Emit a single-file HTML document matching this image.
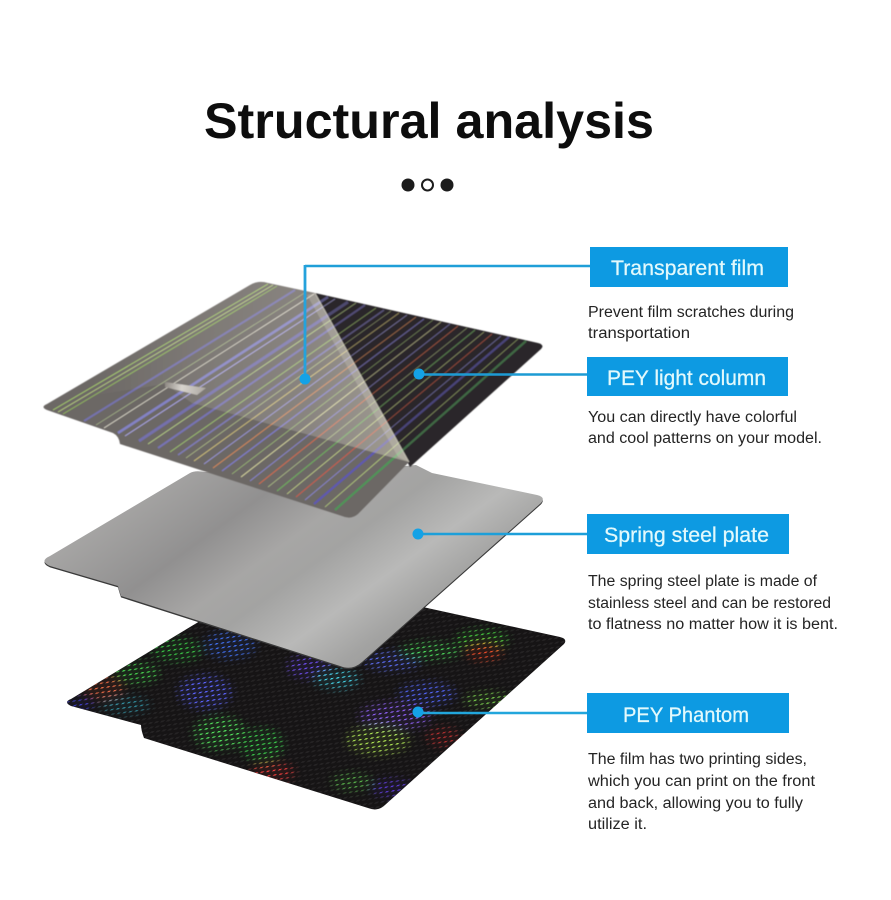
<!DOCTYPE html>
<html lang="en">
<head>
<meta charset="utf-8">
<title>Structural analysis</title>
<style>
html,body{margin:0;padding:0;background:#fff;width:891px;height:900px;overflow:hidden}
svg{display:block}
text{font-family:"Liberation Sans",sans-serif}
.lab{font-size:21px;fill:#e2f9fc;font-weight:400;stroke:#e2f9fc;stroke-width:.25}
.b{font-size:15.5px;fill:#242424}
</style>
</head>
<body>
<svg width="891" height="900" viewBox="0 0 891 900" xmlns="http://www.w3.org/2000/svg">
<defs>
  <linearGradient id="steel" gradientUnits="userSpaceOnUse" x1="150" y1="430" x2="350" y2="707">
    <stop offset="0" stop-color="#a8a7a6"/><stop offset=".13" stop-color="#a6a5a4"/>
    <stop offset=".35" stop-color="#919090"/><stop offset=".5" stop-color="#a7a6a5"/>
    <stop offset=".6" stop-color="#a3a3a2"/><stop offset=".75" stop-color="#b9b9b8"/>
    <stop offset=".88" stop-color="#a3a3a2"/><stop offset="1" stop-color="#979796"/>
  </linearGradient>
  <linearGradient id="flap" gradientUnits="userSpaceOnUse" x1="90" y1="380" x2="405" y2="380">
    <stop offset="0" stop-color="#fff" stop-opacity="0"/>
    <stop offset=".35" stop-color="#fff8ee" stop-opacity=".12"/>
    <stop offset=".7" stop-color="#fff8ee" stop-opacity=".2"/>
    <stop offset="1" stop-color="#f4f0d8" stop-opacity=".38"/>
  </linearGradient>
  <linearGradient id="tape" gradientUnits="userSpaceOnUse" x1="165" y1="385" x2="207" y2="392">
    <stop offset="0" stop-color="#8f8a84"/><stop offset=".4" stop-color="#d8d4ce"/><stop offset="1" stop-color="#a9a49e"/>
  </linearGradient>
  <clipPath id="cFilm"><path d="M47,404 L250,285 Q258,280 268,283 L315,293 L409,462 L358,514 Q351,520 342,516 L120,444 Q119,436 113,433 L47,410 Q40,407 47,404 Z"/></clipPath>
  <clipPath id="cDark"><path d="M315,293 L538,343 Q545,345 541,349 L410,467 Z"/></clipPath>
  <clipPath id="cPh"><path d="M71,699 L276,575 L560,637 Q568,639 564,644 L385,805 Q378,812 368,808 L144,738 Q141,730 141,725 L71,706 Q63,702 71,699 Z"/></clipPath>
  <filter id="bl" x="-5%" y="-5%" width="110%" height="110%"><feGaussianBlur stdDeviation=".4"/></filter>
  <filter id="bb" x="-30%" y="-30%" width="160%" height="160%"><feGaussianBlur stdDeviation="4"/></filter>

  <g id="stripes" fill="none">
    <path d="M53,410 L268,284" stroke="#a6cc6c" stroke-width=".9"/>
    <path d="M58,412 L273,285" stroke="#b8d080" stroke-width=".8"/>
    <path d="M63,414 L277,286" stroke="#90b45e" stroke-width="1"/>
    <path d="M84,421 L295,290" stroke="#7874bf" stroke-width="2" opacity=".8"/>
    <path d="M96,425 L306,292" stroke="#a8b88a" stroke-width=".7"/>
    <path d="M104,428 L314,294" stroke="#d9d6c8" stroke-width=".8"/>
    <path d="M118,433 L328,297" stroke="#8a88dc" stroke-width="2.6" opacity=".8"/>
    <path d="M125,436 L335,299" stroke="#aaa6e4" stroke-width="1"/>
    <path d="M139,441 L348,302" stroke="#7773c4" stroke-width="3" opacity=".75"/>
    <path d="M148,444 L356,303" stroke="#b6cf86" stroke-width=".8"/>
    <path d="M158,448 L365,305" stroke="#7a76c8" stroke-width="2" opacity=".8"/>
    <path d="M170,452 L376,308" stroke="#9dc06e" stroke-width=".9"/>
    <path d="M178,455 L384,310" stroke="#8581cc" stroke-width="1.6" opacity=".8"/>
    <path d="M186,458 L391,311" stroke="#b5c48a" stroke-width=".7"/>
    <path d="M194,461 L399,313" stroke="#d2c27a" stroke-width=".9"/>
    <path d="M204,464 L407,315" stroke="#9a96d8" stroke-width=".9"/>
    <path d="M213,468 L416,317" stroke="#d88a58" stroke-width=".9"/>
    <path d="M222,471 L424,319" stroke="#7f7bc8" stroke-width="1.3"/>
    <path d="M232,474 L433,320" stroke="#a0c078" stroke-width=".7"/>
    <path d="M241,477 L441,322" stroke="#d8d8a0" stroke-width=".9"/>
    <path d="M250,481 L450,324" stroke="#8884cc" stroke-width="1"/>
    <path d="M259,484 L458,326" stroke="#d86c4c" stroke-width=".9"/>
    <path d="M268,487 L467,328" stroke="#b5c88a" stroke-width=".7"/>
    <path d="M277,491 L475,330" stroke="#6fa860" stroke-width="1.2"/>
    <path d="M287,494 L484,332" stroke="#c8d88a" stroke-width=".8"/>
    <path d="M296,497 L492,334" stroke="#d05c48" stroke-width=".9"/>
    <path d="M305,500 L501,336" stroke="#8884cc" stroke-width=".9"/>
    <path d="M314,504 L509,337" stroke="#5f58b0" stroke-width="2.2"/>
    <path d="M325,507 L518,339" stroke="#b5cc7c" stroke-width=".8"/>
    <path d="M335,510 L526,341" stroke="#4f9458" stroke-width="2.2"/>
  </g>

  <pattern id="dash" width="6" height="4.6" patternUnits="userSpaceOnUse" patternTransform="rotate(-8) skewX(-52)">
    <rect x="0" y="0" width="2.8" height="1.3" fill="#fff"/>
  </pattern>
  <pattern id="base" width="6" height="4.6" patternUnits="userSpaceOnUse" patternTransform="rotate(-8) skewX(-52)">
    <rect x="0" y="0" width="6" height="4.6" fill="#161415"/>
    <rect x="0" y="0" width="3.4" height="1.8" fill="#252324"/>
  </pattern>
  <mask id="mDash" maskUnits="userSpaceOnUse" x="50" y="560" width="530" height="260">
    <rect x="50" y="560" width="530" height="260" fill="url(#dash)"/>
  </mask>

  <g id="blobs" filter="url(#bb)">
    <ellipse cx="177" cy="650" rx="26" ry="12" fill="#35c043"/>
    <ellipse cx="230" cy="645" rx="26" ry="14" fill="#3c6df0"/>
    <ellipse cx="137" cy="673" rx="23" ry="11" fill="#43d04c"/>
    <ellipse cx="103" cy="688" rx="21" ry="11" fill="#e4653f"/>
    <ellipse cx="205" cy="692" rx="27" ry="17" fill="#5a62ff"/>
    <ellipse cx="220" cy="733" rx="27" ry="17" fill="#4fe05a"/>
    <ellipse cx="262" cy="745" rx="22" ry="17" fill="#39c948"/>
    <ellipse cx="273" cy="772" rx="22" ry="9" fill="#f03a3a"/>
    <ellipse cx="310" cy="667" rx="23" ry="12" fill="#6a48ee"/>
    <ellipse cx="337" cy="679" rx="23" ry="10" fill="#43d4e8"/>
    <ellipse cx="392" cy="661" rx="29" ry="10" fill="#5a6cf8"/>
    <ellipse cx="430" cy="651" rx="31" ry="9" fill="#48dc58"/>
    <ellipse cx="482" cy="640" rx="27" ry="11" fill="#42d03e"/>
    <ellipse cx="484" cy="652" rx="19" ry="9" fill="#ef4a26"/>
    <ellipse cx="427" cy="694" rx="29" ry="12" fill="#5062f6"/>
    <ellipse cx="395" cy="716" rx="36" ry="14" fill="#8a5cf2"/>
    <ellipse cx="378" cy="740" rx="32" ry="15" fill="#a9e050"/>
    <ellipse cx="488" cy="700" rx="25" ry="8" fill="#77d048"/>
    <ellipse cx="392" cy="788" rx="21" ry="9" fill="#5a38d8"/>
    <ellipse cx="352" cy="782" rx="21" ry="9" fill="#57b448"/>
    <ellipse cx="443" cy="737" rx="17" ry="10" fill="#b82e2e"/>
    <ellipse cx="80" cy="704" rx="15" ry="6" fill="#3a3ed8"/>
    <ellipse cx="125" cy="705" rx="25" ry="9" fill="#2f8fa0"/>
  </g>
</defs>

<rect width="891" height="900" fill="#fff"/>

<text x="204" y="138" font-size="50.3" font-weight="700" fill="#0d0d0d" textLength="450" lengthAdjust="spacingAndGlyphs">Structural analysis</text>
<circle cx="408" cy="185" r="6.5" fill="#1c1c1c"/>
<circle cx="427.5" cy="185" r="5.5" fill="#fff" stroke="#1c1c1c" stroke-width="2"/>
<circle cx="447" cy="185" r="6.5" fill="#1c1c1c"/>

<g clip-path="url(#cPh)">
  <rect x="50" y="560" width="530" height="260" fill="url(#base)"/>
  <use href="#blobs" opacity=".1"/>
  <g mask="url(#mDash)"><use href="#blobs"/></g>
</g>

<path transform="translate(0,1.4)" d="M50,556 L190,473 L416,465 L432,473 L537,495 Q546,497 541,503 L362,662 Q352,671 340,666 L121,596 Q119,590 118,586 L50,566 Q39,561 50,556 Z" fill="#3a3a3a"/>
<path d="M50,556 L190,473 Q195,470 205,472 L405,466 L416,465 L432,473 L537,495 Q546,497 541,503 L362,662 Q352,671 340,666 L121,596 Q119,590 118,586 L50,566 Q39,561 50,556 Z" fill="url(#steel)"/>

<g filter="url(#bl)">
  <path d="M315,293 L538,343 Q545,345 541,349 L410,467 Z" fill="#2c2829"/>
  <g clip-path="url(#cDark)" opacity=".6"><use href="#stripes"/></g>
  <path d="M47,404 L250,285 Q258,280 268,283 L315,293 L409,462 L358,514 Q351,520 342,516 L120,444 Q119,436 113,433 L47,410 Q40,407 47,404 Z" fill="#6c6865"/>
  <g clip-path="url(#cFilm)"><use href="#stripes"/></g>
  <path d="M40,404 L258,276 L315,293 L409,462 L192,403 L165,384 Z" fill="url(#flap)" clip-path="url(#cFilm)"/>
  <path d="M165,382 L206,388 L197,395 L165,387 Z" fill="url(#tape)"/>
  <path d="M315,293 L409,462 L398,457 L307,295 Z" fill="#efeadb" opacity=".22"/>
  <path d="M315,293 L409,462" stroke="#e8e4d6" stroke-width="1" fill="none" opacity=".6"/>
</g>

<path d="M305,266 H590" stroke="#1f9fd8" stroke-width="2.4" fill="none"/>
<path d="M305,265 V379" stroke="#25a2dc" stroke-width="2.8" fill="none"/>
<path d="M418,374.5 H587" stroke="#1d9bd4" stroke-width="2.4" fill="none"/>
<path d="M418,534 H587" stroke="#1d9fd9" stroke-width="2.4" fill="none"/>
<path d="M418,713 H587" stroke="#22a6dc" stroke-width="2.4" fill="none"/>
<circle cx="305" cy="379" r="5.5" fill="#14a2e6"/>
<circle cx="419" cy="374" r="5.5" fill="#14a2e6"/>
<circle cx="418" cy="534" r="5.5" fill="#14a2e6"/>
<circle cx="418" cy="712" r="5.5" fill="#14a2e6"/>

<rect x="590" y="247" width="198" height="40" fill="#0d9ae2"/>
<rect x="587" y="357" width="201" height="39" fill="#0d9ae2"/>
<rect x="587" y="514" width="202" height="40" fill="#0d9ae2"/>
<rect x="587" y="693" width="202" height="40" fill="#0d9ae2"/>
<text class="lab" x="611" y="275" textLength="153" lengthAdjust="spacingAndGlyphs">Transparent film</text>
<text class="lab" x="607" y="385" textLength="159" lengthAdjust="spacingAndGlyphs">PEY light column</text>
<text class="lab" x="604" y="542" textLength="165" lengthAdjust="spacingAndGlyphs">Spring steel plate</text>
<text class="lab" x="623" y="722" textLength="126" lengthAdjust="spacingAndGlyphs">PEY Phantom</text>

<text class="b" x="588" y="317" textLength="206" lengthAdjust="spacingAndGlyphs">Prevent film scratches during</text>
<text class="b" x="588" y="338" textLength="102" lengthAdjust="spacingAndGlyphs">transportation</text>
<text class="b" x="588" y="422" textLength="209" lengthAdjust="spacingAndGlyphs">You can directly have colorful</text>
<text class="b" x="588" y="443" textLength="234" lengthAdjust="spacingAndGlyphs">and cool patterns on your model.</text>
<text class="b" x="588" y="586" textLength="229" lengthAdjust="spacingAndGlyphs">The spring steel plate is made of</text>
<text class="b" x="588" y="608" textLength="243" lengthAdjust="spacingAndGlyphs">stainless steel and can be restored</text>
<text class="b" x="588" y="629" textLength="250" lengthAdjust="spacingAndGlyphs">to flatness no matter how it is bent.</text>
<text class="b" x="588" y="764" textLength="219" lengthAdjust="spacingAndGlyphs">The film has two printing sides,</text>
<text class="b" x="588" y="786" textLength="227" lengthAdjust="spacingAndGlyphs">which you can print on the front</text>
<text class="b" x="588" y="808" textLength="215" lengthAdjust="spacingAndGlyphs">and back, allowing you to fully</text>
<text class="b" x="588" y="829" textLength="59" lengthAdjust="spacingAndGlyphs">utilize it.</text>
</svg>
</body>
</html>
